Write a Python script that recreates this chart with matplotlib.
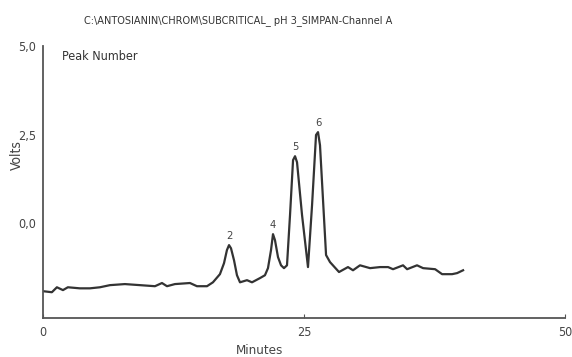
import matplotlib
matplotlib.use("Agg")
import matplotlib.pyplot as plt

# chromatogram trace (minutes, volts)
minutes = [0.00, 0.86, 1.34, 1.92, 2.39, 3.54, 4.50, 5.46, 6.42, 7.85, 9.29, 10.73,
           11.40, 11.88, 12.64, 14.08, 14.75, 15.71, 16.28, 16.95, 17.34, 17.62, 17.82,
           18.01, 18.30, 18.58, 18.87, 19.54, 20.02, 20.79, 21.26, 21.55, 21.84, 22.03,
           22.22, 22.51, 22.80, 23.08, 23.37, 23.66, 23.95, 24.14, 24.33, 24.81, 25.38,
           25.77, 26.15, 26.34, 26.53, 26.82, 27.11, 27.49, 28.35, 29.21, 29.69, 30.36,
           31.32, 32.28, 33.05, 33.52, 34.48, 34.87, 35.82, 36.40, 37.55, 38.22, 39.18,
           39.66, 40.23]
volts = [-1.92, -1.95, -1.81, -1.89, -1.81, -1.84, -1.84, -1.81, -1.75, -1.72, -1.75, -1.78,
         -1.69, -1.78, -1.72, -1.69, -1.78, -1.78, -1.67, -1.44, -1.13, -0.76, -0.62,
         -0.71, -1.05, -1.47, -1.67, -1.61, -1.67, -1.55, -1.47, -1.27, -0.76, -0.31,
         -0.48, -0.96, -1.19, -1.27, -1.19, 0.23, 1.78, 1.89, 1.72, 0.23, -1.24,
         0.51, 2.49, 2.57, 2.20, 0.65, -0.90, -1.10, -1.38, -1.24, -1.33, -1.19,
         -1.27, -1.24, -1.24, -1.30, -1.19, -1.30, -1.19, -1.27, -1.30, -1.44, -1.44,
         -1.41, -1.33]

peak_labels = ["2", "4", "5", "6"]
peak_minutes = [17.82, 22.03, 24.14, 26.34]
peak_volts = [-0.62, -0.31, 1.89, 2.57]

x_ticks = [0, 25, 50]
y_ticks = [0.0, 2.5, 5.0]
y_tick_labels = ["0,0", "2,5", "5,0"]

# condensed face stands in for the narrow font of the original
plt.rcParams['font.family'] = ['DejaVu Sans']
plt.rcParams['font.stretch'] = 'condensed'
grey = "#444444"

fig = plt.figure(figsize=(5.72, 3.57), dpi=100)
ax = fig.add_axes([0.075, 0.109, 0.913, 0.762])

ax.plot(minutes, volts, color="#333333", lw=1.6, solid_joinstyle="round")
for lab, t, v in zip(peak_labels, peak_minutes, peak_volts):
    ax.annotate(lab, (t, v), xytext=(0, 3), textcoords="offset points",
                ha="center", va="bottom", fontsize=8, color=grey)

ax.set_xlim(0, 50)
ax.set_ylim(-2.68, 5.0)
ax.set_xticks(x_ticks)
ax.set_xticklabels([str(t) for t in x_ticks])
ax.set_yticks(y_ticks)
ax.set_yticklabels(y_tick_labels)
ax.tick_params(axis="x", direction="in", length=3, colors="#555555",
               labelcolor=grey, labelsize=9, pad=6)
ax.tick_params(axis="y", length=0, labelcolor=grey, labelsize=9, pad=5)

for s in ["top", "right"]:
    ax.spines[s].set_visible(False)
for s in ["left", "bottom"]:
    ax.spines[s].set_color("#555555")
    ax.spines[s].set_linewidth(1.3)

fig.text(238 / 572, 1 - 21 / 357, r"C:\ANTOSIANIN\CHROM\SUBCRITICAL_ pH 3_SIMPAN-Channel A",
         ha="center", va="center", fontsize=7.8, color="#333333")
fig.text(62 / 572, 1 - 57 / 357, "Peak Number", ha="left", va="center",
         fontsize=9, color="#333333")
fig.text(17 / 572, 1 - 155 / 357, "Volts", rotation=90, ha="center", va="center",
         fontsize=10, color=grey)
fig.text(260 / 572, 1 - 350 / 357, "Minutes", ha="center", va="center",
         fontsize=9.5, color=grey)

fig.savefig("out.png", dpi=100)
